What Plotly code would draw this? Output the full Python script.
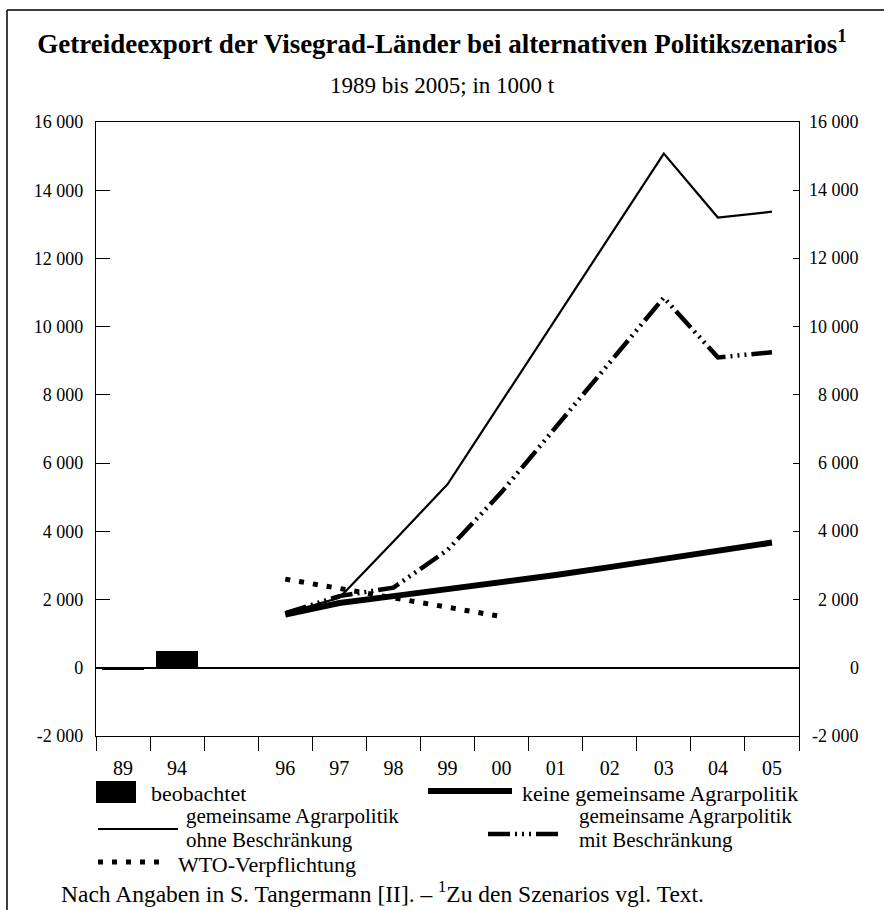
import plotly.graph_objects as go

# ---------------- data ----------------
YEARS = ["89", "94", "", "96", "97", "98", "99", "00", "01", "02", "03", "04", "05"]

OBS_YEARS = ["89", "94"]
OBS_VALUES = [-70, 500]  # beobachtet

SCEN_YEARS = ["96", "97", "98", "99", "00", "01", "02", "03", "04", "05"]
KEINE_GAP = [1560, 1900, 2100, 2300, 2500, 2720, 2950, 3180, 3420, 3670]
GAP_OHNE = [1600, 2050, 3700, 5380, 7800, 10230, 12650, 15075, 13200, 13370]
GAP_MIT = [1600, 2100, 2350, 3450, 5150, 7050, 8950, 10850, 9100, 9250]

WTO_YEARS = ["96", "97", "98", "99", "00"]
WTO_VALUES = [2600, 2330, 2050, 1780, 1500]

Y_TICKS = [-2000, 0, 2000, 4000, 6000, 8000, 10000, 12000, 14000, 16000]
Y_LABELS = ["-2 000", "0", "2 000", "4 000", "6 000", "8 000",
            "10 000", "12 000", "14 000", "16 000"]

TITLE = "Getreideexport der Visegrad-Länder bei alternativen Politikszenarios<sup>1</sup>"
SUBTITLE = "1989 bis 2005; in 1000 t"
FOOTNOTE = "Nach Angaben in S. Tangermann [II]. – <sup>1</sup>Zu den Szenarios vgl. Text."

# ---------------- layout geometry ----------------
W, H = 884, 910
L, R, T, B = 96, 799, 122, 736
FONT = "Liberation Serif, Times New Roman, serif"


def px_x(x):
    return (x - L) / (R - L)


def px_y(y):
    return (B - y) / (B - T)


def pos(labels):
    return [YEARS.index(s) for s in labels]


fig = go.Figure()

# observed bars
fig.add_trace(go.Bar(x=pos(OBS_YEARS), y=OBS_VALUES, width=0.78,
                     marker=dict(color="black", line=dict(width=0)),
                     showlegend=False))

# keine gemeinsame Agrarpolitik (thick)
fig.add_trace(go.Scatter(x=pos(SCEN_YEARS), y=KEINE_GAP, mode="lines",
                         line=dict(color="black", width=6), showlegend=False))
# gemeinsame Agrarpolitik ohne Beschränkung (thin)
fig.add_trace(go.Scatter(x=pos(SCEN_YEARS), y=GAP_OHNE, mode="lines",
                         line=dict(color="black", width=2.2), showlegend=False))
# gemeinsame Agrarpolitik mit Beschränkung (dash-dot-dot-dot)
DASH_MIT = "22px,5px,2px,5px,2px,5px,2px,5px"
fig.add_trace(go.Scatter(x=pos(SCEN_YEARS), y=GAP_MIT, mode="lines",
                         line=dict(color="black", width=4.5, dash=DASH_MIT),
                         showlegend=False))
# WTO-Verpflichtung (dotted)
DASH_WTO = "5px,9px"
fig.add_trace(go.Scatter(x=pos(WTO_YEARS), y=WTO_VALUES, mode="lines",
                         line=dict(color="black", width=5, dash=DASH_WTO),
                         showlegend=False))

# dummy trace for right axis
fig.add_trace(go.Scatter(x=[None], y=[None], yaxis="y2", showlegend=False))

centers = list(range(len(YEARS)))
bounds = [i - 0.5 for i in range(len(YEARS) + 1)]

fig.update_layout(
    width=W, height=H,
    margin=dict(l=L, r=W - R, t=T, b=H - B, pad=0),
    paper_bgcolor="white", plot_bgcolor="white",
    font=dict(family=FONT, size=18, color="black"),
    showlegend=False,
    bargap=0,
    title=dict(text=TITLE, x=0.5, xref="container", xanchor="center",
               y=1 - 44 / H, yref="container", yanchor="middle",
               font=dict(family=FONT, size=27, color="black", weight="bold")),
    xaxis=dict(range=[-0.5, len(YEARS) - 0.5], tickmode="array",
               tickvals=centers, ticktext=YEARS, ticks="",
               ticklabelstandoff=14,
               showline=True, linecolor="black", linewidth=1.2, mirror=True,
               showgrid=False, zeroline=False,
               minor=dict(tickmode="array", tickvals=bounds, ticks="outside",
                          ticklen=14, tickwidth=1.2, tickcolor="black",
                          showgrid=False),
               tickfont=dict(size=20)),
    yaxis=dict(range=[-2000, 16000], tickmode="array", tickvals=Y_TICKS,
               ticktext=Y_LABELS, ticks="inside", ticklen=14, tickwidth=1.2,
               tickcolor="black", ticklabelstandoff=8,
               showline=True, linecolor="black", linewidth=1.2,
               showgrid=False, zeroline=True, zerolinecolor="black",
               zerolinewidth=1.6, tickfont=dict(size=18)),
    yaxis2=dict(range=[-2000, 16000], overlaying="y", side="right",
                tickmode="array", tickvals=Y_TICKS, ticks="inside", ticklen=6,
                tickwidth=1.2, tickcolor="black", showticklabels=False,
                showline=True, linecolor="black", linewidth=1.2,
                showgrid=False, zeroline=False),
)

annotations = []
# right-aligned right axis labels
for v, lab in zip(Y_TICKS, Y_LABELS):
    annotations.append(dict(x=px_x(861), xref="paper", y=v, yref="y",
                            text=lab, showarrow=False, xanchor="right",
                            yanchor="middle", font=dict(size=18)))

annotations.append(dict(x=px_x(442), xref="paper", y=px_y(86), yref="paper",
                        text=SUBTITLE, showarrow=False, xanchor="center",
                        yanchor="middle", font=dict(size=23)))

# legend texts
LEG = [
    ("beobachtet", 150, 793, 22),
    ("keine gemeinsame Agrarpolitik", 521, 793, 22),
    ("gemeinsame Agrarpolitik", 185, 816, 21),
    ("ohne Beschränkung", 185, 840, 21),
    ("gemeinsame Agrarpolitik", 578, 816, 21),
    ("mit Beschränkung", 578, 840, 21),
    ("WTO-Verpflichtung", 177, 864, 22),
]
for text, x, y, fs in LEG:
    annotations.append(dict(x=px_x(x), xref="paper", y=px_y(y), yref="paper",
                            text=text, showarrow=False, xanchor="left",
                            yanchor="middle", align="left",
                            font=dict(size=fs), borderpad=0))

annotations.append(dict(x=px_x(59), xref="paper", y=px_y(892), yref="paper",
                        text=FOOTNOTE, showarrow=False, xanchor="left",
                        yanchor="middle", font=dict(size=23.5)))

fig.update_layout(annotations=annotations)

shapes = [
    # outer frame (top, left)
    dict(type="line", xref="paper", yref="paper", x0=px_x(7), x1=px_x(884),
         y0=px_y(10), y1=px_y(10), line=dict(color="black", width=1.5)),
    dict(type="line", xref="paper", yref="paper", x0=px_x(7), x1=px_x(7),
         y0=px_y(10), y1=px_y(910), line=dict(color="black", width=1.5)),
    # legend samples
    dict(type="rect", xref="paper", yref="paper", x0=px_x(96), x1=px_x(136),
         y0=px_y(803), y1=px_y(781), fillcolor="black", line=dict(width=0)),
    dict(type="line", xref="paper", yref="paper", x0=px_x(428), x1=px_x(512),
         y0=px_y(791), y1=px_y(791), line=dict(color="black", width=6)),
    dict(type="line", xref="paper", yref="paper", x0=px_x(98), x1=px_x(178),
         y0=px_y(829), y1=px_y(829), line=dict(color="black", width=2.2)),
    dict(type="line", xref="paper", yref="paper", x0=px_x(488), x1=px_x(558),
         y0=px_y(834), y1=px_y(834),
         line=dict(color="black", width=4.5, dash=DASH_MIT)),
    dict(type="line", xref="paper", yref="paper", x0=px_x(98), x1=px_x(168),
         y0=px_y(862), y1=px_y(862),
         line=dict(color="black", width=5, dash=DASH_WTO)),
]
fig.update_layout(shapes=shapes)

fig.write_html("out.html",
               config={"displayModeBar": False},
               post_script="document.body.style.margin='0px';"
                           "document.body.style.padding='0px';")
